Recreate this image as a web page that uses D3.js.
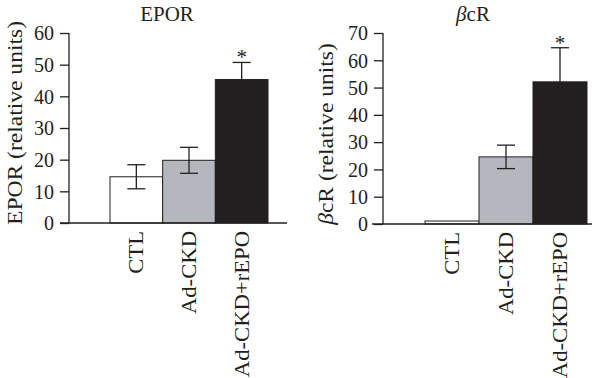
<!DOCTYPE html>
<html>
<head>
<meta charset="utf-8">
<script src="https://cdn.jsdelivr.net/npm/d3@7"></script>
<style>
  body { margin: 0; background: #fff; }
  svg { display: block; }
  text { font-family: 'Liberation Serif', 'Times New Roman', serif; fill: #231f20; }
</style>
</head>
<body>
<div id="chart"></div>
<script>
// data
const categories = ['CTL', 'Ad-CKD', 'Ad-CKD+rEPO']
const eporValues = [14.6, 19.8, 45.3]
const eporErrors = [3.8, 4.1, 5.4]
const bcrValues = [1.1, 24.6, 52.1]
const bcrErrors = [0, 4.3, 12.5]
const significant = [false, false, true]
const eporTicks = [0, 10, 20, 30, 40, 50, 60]
const bcrTicks = [0, 10, 20, 30, 40, 50, 60, 70]

// style
const fills = ['#ffffff', '#b4b8be', '#231f20']
const ink = '#231f20'

const svg = d3
  .select('#chart')
  .append('svg')
  .attr('width', 600)
  .attr('height', 378)

const panels = [
  {
    title: 'EPOR',
    label: 'EPOR (relative units)',
    values: eporValues,
    errors: eporErrors,
    ticks: eporTicks,
    max: 60,
    axisX: 69,
    yRange: [223, 33],
    barRange: [110, 268],
    baseline: [60, 287],
    titleX: 167,
    labelX: 21.5,
    labelY: 123,
  },
  {
    title: 'βcR',
    label: 'βcR (relative units)',
    values: bcrValues,
    errors: bcrErrors,
    ticks: bcrTicks,
    max: 70,
    axisX: 383,
    yRange: [224, 33],
    barRange: [425, 587],
    baseline: [372, 592],
    titleX: 473,
    labelX: 333,
    labelY: 134,
  },
]

function italicBeta(sel, str) {
  // beta drawn in italics, rest upright
  if (str.startsWith('β')) {
    sel.append('tspan').attr('font-style', 'italic').text('β')
    sel.append('tspan').text(str.slice(1))
  } else {
    sel.text(str)
  }
}

// the original face is wider than Times, so widen the glyphs a bit
function widen(sel, k) {
  sel.each(function() {
    const len = this.getComputedTextLength()
    d3.select(this)
      .attr('textLength', len * k)
      .attr('lengthAdjust', 'spacingAndGlyphs')
  })
}

panels.forEach(p => {
  const y = d3.scaleLinear().domain([0, p.max]).range(p.yRange)
  const x = d3.scaleBand().domain(categories).range(p.barRange).padding(0)
  const rows = categories.map((c, i) => ({
    cat: c,
    v: p.values[i],
    e: p.errors[i],
    fill: fills[i],
    star: significant[i],
  }))

  const g = svg.append('g')

  // bars
  g.selectAll('rect.bar')
    .data(rows)
    .join('rect')
    .attr('class', 'bar')
    .attr('x', d => x(d.cat))
    .attr('width', x.bandwidth())
    .attr('y', d => y(d.v))
    .attr('height', d => y(0) - y(d.v))
    .attr('fill', d => d.fill)
    .attr('stroke', ink)
    .attr('stroke-width', 1)

  // error bars
  const err = g.selectAll('g.err')
    .data(rows.filter(d => d.e > 0))
    .join('g')
    .attr('class', 'err')
    .attr('stroke', ink)
    .attr('stroke-width', 1.3)
  err.append('line')
    .attr('x1', d => x(d.cat) + x.bandwidth() / 2)
    .attr('x2', d => x(d.cat) + x.bandwidth() / 2)
    .attr('y1', d => y(d.v + d.e))
    .attr('y2', d => y(d.v - d.e))
  err.append('line')
    .attr('x1', d => x(d.cat) + x.bandwidth() / 2 - 9)
    .attr('x2', d => x(d.cat) + x.bandwidth() / 2 + 9)
    .attr('y1', d => y(d.v + d.e))
    .attr('y2', d => y(d.v + d.e))
  err.append('line')
    .attr('x1', d => x(d.cat) + x.bandwidth() / 2 - 9)
    .attr('x2', d => x(d.cat) + x.bandwidth() / 2 + 9)
    .attr('y1', d => y(d.v - d.e))
    .attr('y2', d => y(d.v - d.e))

  // significance star
  g.selectAll('text.star')
    .data(rows.filter(d => d.star))
    .join('text')
    .attr('class', 'star')
    .attr('x', d => x(d.cat) + x.bandwidth() / 2)
    .attr('y', d => y(d.v + d.e) + 2)
    .attr('text-anchor', 'middle')
    .attr('font-size', '21px')
    .text('*')

  // y axis
  const yAxis = g.append('g')
    .attr('transform', `translate(${p.axisX},0)`)
    .call(d3.axisLeft(y).tickValues(p.ticks).tickSize(9).tickPadding(6))
  yAxis.select('.domain').attr('d', `M0,${p.yRange[1]}V${p.yRange[0]}`)
  yAxis.selectAll('line, path').attr('stroke', ink).attr('stroke-width', 1.3)
  yAxis.selectAll('text')
    .attr('font-size', '20px')
    .attr('font-family', "'Liberation Serif', serif")
    .attr('fill', ink)
    .attr('dy', '0.34em')

  // baseline
  g.append('line')
    .attr('x1', p.baseline[0])
    .attr('x2', p.baseline[1])
    .attr('y1', y(0))
    .attr('y2', y(0))
    .attr('stroke', ink)
    .attr('stroke-width', 1.3)

  // category labels
  g.selectAll('text.cat')
    .data(rows)
    .join('text')
    .attr('class', 'cat')
    .attr('text-anchor', 'end')
    .attr('font-size', '22px')
    .attr('transform', d => `translate(${x(d.cat) + x.bandwidth() / 2 + 7},${y(0) + 8}) rotate(-90)`)
    .text(d => d.cat)
    .call(widen, 1.03)

  // title
  g.append('text')
    .attr('x', p.titleX)
    .attr('y', 21)
    .attr('text-anchor', 'middle')
    .attr('font-size', '21px')
    .call(italicBeta, p.title)

  // y label
  g.append('text')
    .attr('text-anchor', 'middle')
    .attr('font-size', '22px')
    .attr('transform', `translate(${p.labelX},${p.labelY}) rotate(-90)`)
    .call(italicBeta, p.label)
    .call(widen, 1.07)
})
</script>
</body>
</html>
